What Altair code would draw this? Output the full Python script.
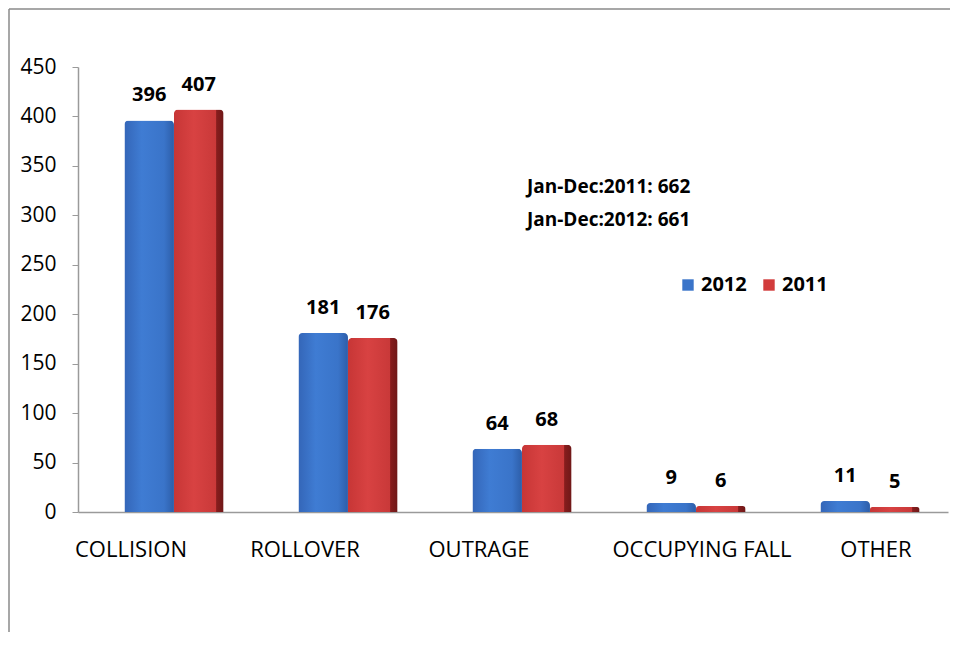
import altair as alt
import pandas as pd

categories = ["COLLISION", "ROLLOVER", "OUTRAGE", "OCCUPYING FALL", "OTHER"]
years = ["2012", "2011"]
values_2012 = [396, 181, 64, 9, 11]
values_2011 = [407, 176, 68, 6, 5]
totals = {"2011": 662, "2012": 661}

rows = []
for c, v12, v11 in zip(categories, values_2012, values_2011):
    rows.append({"category": c, "year": "2012", "value": v12})
    rows.append({"category": c, "year": "2011", "value": v11})
df = pd.DataFrame(rows)

W, H = 870, 445
FONT = "Open Sans"

x_enc = alt.X(
    "category:N",
    sort=categories,
    title=None,
    scale=alt.Scale(paddingInner=0.43, paddingOuter=0.215, align=0.62),
    axis=alt.Axis(
        ticks=False,
        labelAngle=0,
        labelPadding=27,
        labelFont=FONT,
        labelFontSize=22,
        labelColor="#000000",
        domainColor="#9a9a9a",
        domainWidth=1.5,
        labelOffset={
            "condition": {
                "test": "datum.value == 'OCCUPYING FALL' || datum.value == 'OTHER'",
                "value": 6,
            },
            "value": -43,
        },
    ),
)
y_enc = alt.Y(
    "value:Q",
    title=None,
    scale=alt.Scale(domain=[0, 450], nice=False),
    axis=alt.Axis(
        values=list(range(0, 451, 50)),
        grid=False,
        tickSize=6,
        tickColor="#9a9a9a",
        domainColor="#9a9a9a",
        domainWidth=1.5,
        labelPadding=16,
        labelFont=FONT,
        labelFontSize=21,
        labelColor="#000000",
    ),
)
xoff = alt.XOffset("year:N", sort=years, scale=alt.Scale(paddingInner=0, paddingOuter=0))

base = alt.Chart(df).encode(x=x_enc, y=y_enc, xOffset=xoff)

blue_grad = alt.Gradient(
    gradient="linear", x1=0, x2=1, y1=0, y2=0,
    stops=[
        alt.GradientStop(color="#3466b8", offset=0),
        alt.GradientStop(color="#3f7cd3", offset=0.35),
        alt.GradientStop(color="#3a74c9", offset=0.8),
        alt.GradientStop(color="#2d5ea9", offset=1),
    ],
)
red_grad = alt.Gradient(
    gradient="linear", x1=0, x2=1, y1=0, y2=0,
    stops=[
        alt.GradientStop(color="#c73636", offset=0),
        alt.GradientStop(color="#d84242", offset=0.4),
        alt.GradientStop(color="#c93939", offset=0.84),
        alt.GradientStop(color="#861d1d", offset=0.86),
        alt.GradientStop(color="#6f1818", offset=1),
    ],
)

blue_bars = base.transform_filter(alt.datum.year == "2012").mark_bar(
    fill=blue_grad, cornerRadiusTopLeft=4, cornerRadiusTopRight=4
)
red_bars = base.transform_filter(alt.datum.year == "2011").mark_bar(
    fill=red_grad, cornerRadiusTopLeft=4, cornerRadiusTopRight=4
)

legend_layer = base.mark_point(shape="square", filled=True, opacity=0).encode(
    color=alt.Color(
        "year:N",
        scale=alt.Scale(domain=years, range=["#3a74c9", "#d23c3c"]),
        legend=alt.Legend(
            orient="none",
            legendX=600,
            legendY=208,
            direction="horizontal",
            title=None,
            symbolType="square",
            symbolSize=130,
            symbolOpacity=1,
            symbolStrokeWidth=0,
            labelFont=FONT,
            labelFontSize=20,
            labelFontWeight="bold",
            labelColor="#000000",
            labelOffset=3,
            columnPadding=12,
        ),
    )
)

labels = base.mark_text(
    baseline="alphabetic", dy=-19, font=FONT, fontSize=20, fontWeight="bold", color="#000000"
).encode(text="value:Q")

note_lines = [f"Jan-Dec:{y}: {totals[y]}" for y in ["2011", "2012"]]
note = alt.Chart(pd.DataFrame({"k": [0]})).mark_text(
    align="left", baseline="alphabetic", font=FONT, fontSize=19, fontWeight="bold",
    color="#000000", lineHeight=33
).encode(x=alt.value(449), y=alt.value(126), text=alt.value(note_lines))

frame_left = alt.Chart(pd.DataFrame({"k": [0]})).mark_rule(color="#8a8a8a", strokeWidth=1.5).encode(
    x=alt.value(-69), y=alt.value(-58), y2=alt.value(565)
)
frame_top = alt.Chart(pd.DataFrame({"k": [0]})).mark_rule(color="#8a8a8a", strokeWidth=1.5).encode(
    x=alt.value(-69), x2=alt.value(872), y=alt.value(-58)
)

chart = alt.layer(
    frame_left, frame_top, blue_bars, red_bars, legend_layer, labels, note
).properties(
    width=W, height=H, padding=0
).configure(background="white", view=alt.ViewConfig(stroke=None))

chart.save("out.html", embed_options={"renderer": "svg", "actions": False})
